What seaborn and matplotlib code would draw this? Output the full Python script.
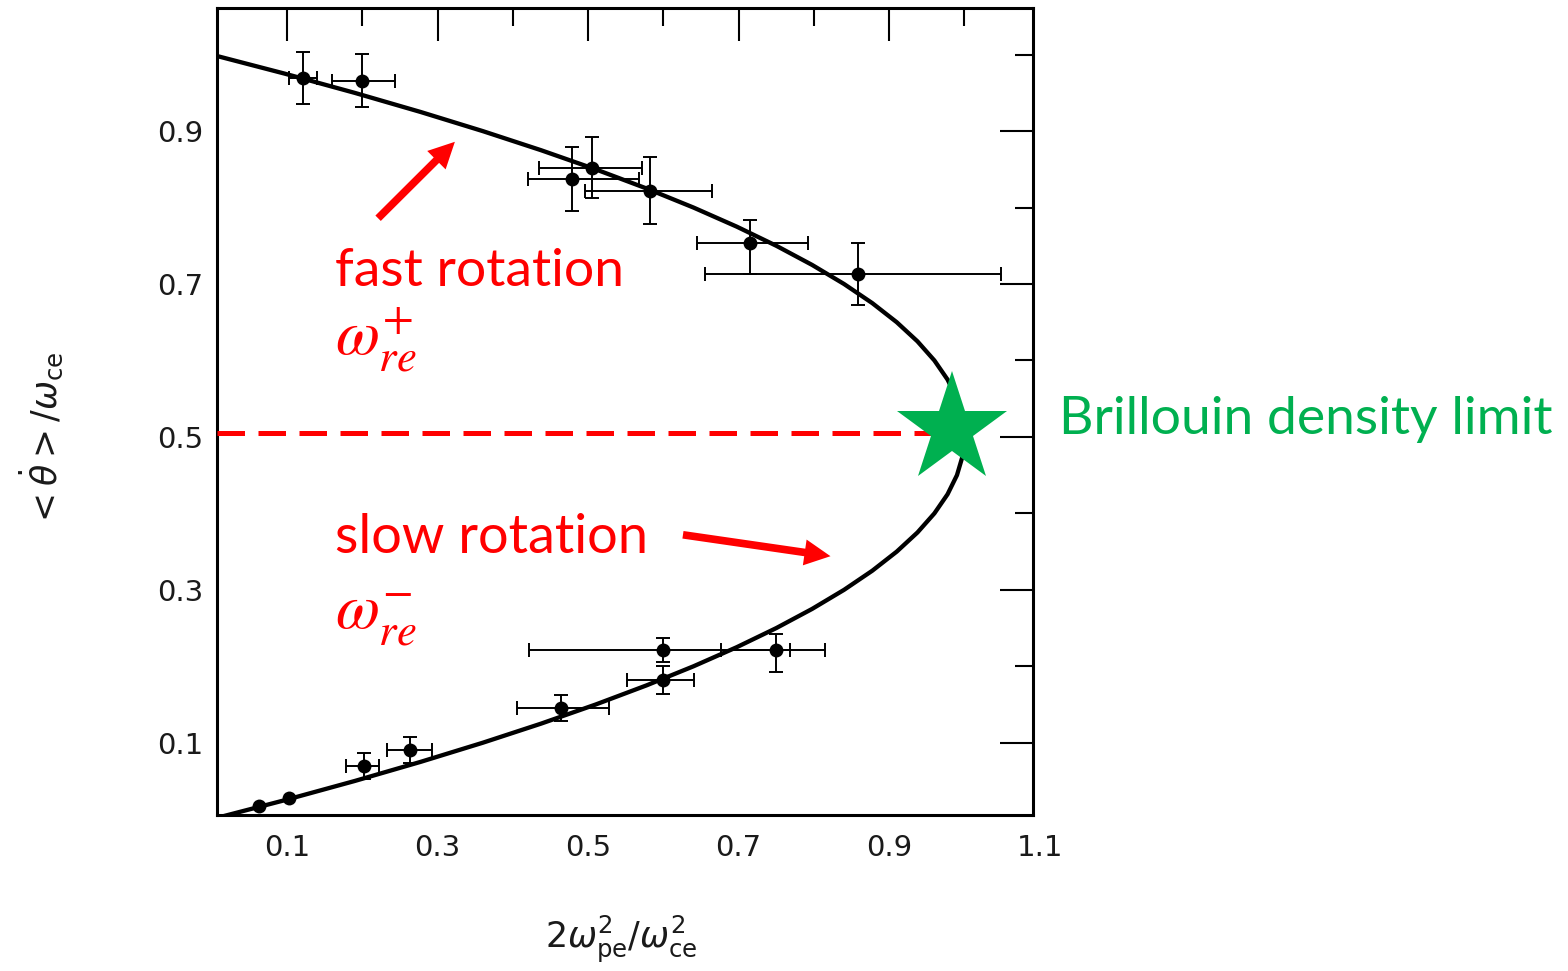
import matplotlib
matplotlib.use("Agg")
import matplotlib.pyplot as plt
import seaborn as sns
import numpy as np
import pandas as pd

# ---------------- data ----------------
# theory curve: x = 2 w_pe^2 / w_ce^2, y = <theta_dot>/w_ce
curve_y = [0.0, 0.025, 0.05, 0.075, 0.1, 0.125, 0.15, 0.175, 0.2, 0.225, 0.25, 0.275,
           0.3, 0.325, 0.35, 0.375, 0.4, 0.425, 0.45, 0.475, 0.5,
           0.525, 0.55, 0.575, 0.6, 0.625, 0.65, 0.675, 0.7, 0.725, 0.75, 0.775,
           0.8, 0.825, 0.85, 0.875, 0.9, 0.925, 0.95, 0.975, 1.0]
curve_x = [0.0, 0.0975, 0.19, 0.2775, 0.36, 0.4375, 0.51, 0.5775, 0.64, 0.6975, 0.75, 0.7975,
           0.84, 0.8775, 0.91, 0.9375, 0.96, 0.9775, 0.99, 0.9975, 1.0,
           0.9975, 0.99, 0.9775, 0.96, 0.9375, 0.91, 0.8775, 0.84, 0.7975, 0.75, 0.6975,
           0.64, 0.5775, 0.51, 0.4375, 0.36, 0.2775, 0.19, 0.0975, 0.0]

# measured points
pt_x = [0.063, 0.102, 0.202, 0.263, 0.464, 0.599, 0.600, 0.749,
        0.121, 0.200, 0.479, 0.505, 0.582, 0.715, 0.859]
pt_y = [0.017, 0.028, 0.069, 0.091, 0.145, 0.221, 0.182, 0.221,
        0.970, 0.966, 0.837, 0.852, 0.822, 0.753, 0.713]
xerr_lo = [0, 0, 0.023, 0.030, 0.059, 0.178, 0.048, 0.072,
           0.019, 0.040, 0.059, 0.070, 0.086, 0.070, 0.204]
xerr_hi = [0, 0, 0.020, 0.030, 0.064, 0.169, 0.041, 0.066,
           0.019, 0.043, 0.089, 0.067, 0.083, 0.077, 0.189]
yerr_lo = [0, 0, 0.017, 0.017, 0.017, 0.016, 0.018, 0.028,
           0.034, 0.035, 0.042, 0.040, 0.044, 0.040, 0.040]
yerr_hi = [0, 0, 0.017, 0.017, 0.017, 0.016, 0.018, 0.021,
           0.033, 0.035, 0.042, 0.040, 0.044, 0.031, 0.040]

# Brillouin limit marker
limit_y = 0.505
star_x, star_y = 0.984, 0.510

x_major = [0.1, 0.3, 0.5, 0.7, 0.9]
x_minor = [0.2, 0.4, 0.6, 0.8, 1.0]
x_labels = ["0.1", "0.3", "0.5", "0.7", "0.9"]
y_major = [0.1, 0.3, 0.5, 0.7, 0.9]
y_minor = [0.2, 0.4, 0.6, 0.8, 1.0]
y_labels = ["0.1", "0.3", "0.5", "0.7", "0.9"]

# annotation arrows (tail -> tip), data coords
fast_arrow = ((0.221, 0.786), (0.323, 0.886))
slow_arrow = ((0.626, 0.372), (0.822, 0.344))

# ---------------- figure ----------------
sns.set_theme(style="white")
plt.rcParams["font.family"] = ["DejaVu Sans"]
plt.rcParams["axes.linewidth"] = 2.2
plt.rcParams["axes.edgecolor"] = "black"

fig = plt.figure(figsize=(15.68, 9.71), dpi=100)
fig.patch.set_facecolor("white")
ax = fig.add_axes([217 / 1568, 156 / 971, 816 / 1568, 807 / 971])

XMIN, XMAX = 0.007, 1.091
YMIN, YMAX = 0.0055, 1.061

df_curve = pd.DataFrame({"x": curve_x, "y": curve_y})
sns.lineplot(data=df_curve, x="x", y="y", sort=False, estimator=None,
             color="black", lw=3.1, ax=ax, zorder=3)

px = np.array(pt_x); py = np.array(pt_y)
xl = np.array(xerr_lo); xh = np.array(xerr_hi)
yl = np.array(yerr_lo); yh = np.array(yerr_hi)
m = (xl + xh + yl + yh) > 0
ax.errorbar(px[m], py[m], xerr=[xl[m], xh[m]], yerr=[yl[m], yh[m]], fmt="none",
            ecolor="black", elinewidth=1.4, capsize=5, capthick=1.4, zorder=2)
df_pts = pd.DataFrame({"x": pt_x, "y": pt_y})
sns.scatterplot(data=df_pts, x="x", y="y", color="black", s=100,
                edgecolor="black", linewidth=0, ax=ax, zorder=4)

ax.set_xlim(XMIN, XMAX)
ax.set_ylim(YMIN, YMAX)

# dashed Brillouin line and star
ax.axhline(limit_y, xmin=0, xmax=(star_x - XMIN) / (XMAX - XMIN),
           color="#FF0000", lw=3.6, dashes=(5.5, 2.7), zorder=5)
ax.plot([star_x], [star_y], marker="*", markersize=83, color="#00B050",
        markeredgewidth=0, clip_on=False, zorder=6)

# ticks
tick_color = "#1a1a1a"
ax.set_xticks(x_major)
ax.set_xticks(x_minor, minor=True)
ax.set_xticklabels(x_labels)
ax.set_yticks(y_major)
ax.set_yticks(y_minor, minor=True)
ax.set_yticklabels(y_labels)
ax.tick_params(which="both", direction="in", top=True, right=True,
               width=1.5, color="black", labelsize=21, labelcolor=tick_color)
ax.tick_params(which="major", length=24)
ax.tick_params(which="minor", length=13)
ax.tick_params(axis="x", which="major", pad=14)
ax.tick_params(axis="y", which="major", pad=10)
ax.annotate("1.1", xy=(1.1, 0), xycoords=("data", "axes fraction"),
            xytext=(0, -14), textcoords="offset points", ha="center", va="top",
            fontsize=21, color=tick_color, annotation_clip=False)

ax.set_xlabel(r"$2\omega_{\rm pe}^{2}/\omega_{\rm ce}^{2}$", fontsize=25, color=tick_color)
ax.set_ylabel(r"$<\dot{\theta}>/\omega_{\rm ce}$", fontsize=25, color=tick_color)
ax.xaxis.set_label_coords(0.496, -0.122)
ax.yaxis.set_label_coords(-0.186, 0.465)

for s in ax.spines.values():
    s.set_visible(True)
    s.set_color("black")

# red annotations
red = "#FF0000"
ax.text(0.164, 0.698, "fast rotation", color=red, fontsize=38.5,
        family=["Lato", "DejaVu Sans"], ha="left", va="baseline", zorder=7)
ax.text(0.164, 0.608, r"$\omega_{re}^{+}$", color=red, fontsize=46,
        math_fontfamily="stix", ha="left", va="baseline", zorder=7)
ax.text(0.164, 0.348, "slow rotation", color=red, fontsize=39,
        family=["Lato", "DejaVu Sans"], ha="left", va="baseline", zorder=7)
ax.text(0.164, 0.249, r"$\omega_{re}^{-}$", color=red, fontsize=46,
        math_fontfamily="stix", ha="left", va="baseline", zorder=7)
ax.text(1.125, 0.504, "Brillouin density limit", color="#00B050", fontsize=38.5,
        family=["Lato", "DejaVu Sans"], ha="left", va="baseline", clip_on=False, zorder=7)

arrow_style = "simple,head_length=0.75,head_width=0.75,tail_width=0.22"
for tail, tip in (fast_arrow, slow_arrow):
    ax.annotate("", xy=tip, xytext=tail,
                arrowprops=dict(arrowstyle=arrow_style, mutation_scale=25,
                                color=red, lw=0, shrinkA=0, shrinkB=0), zorder=7)

fig.savefig("out.png", dpi=100, facecolor="white")
